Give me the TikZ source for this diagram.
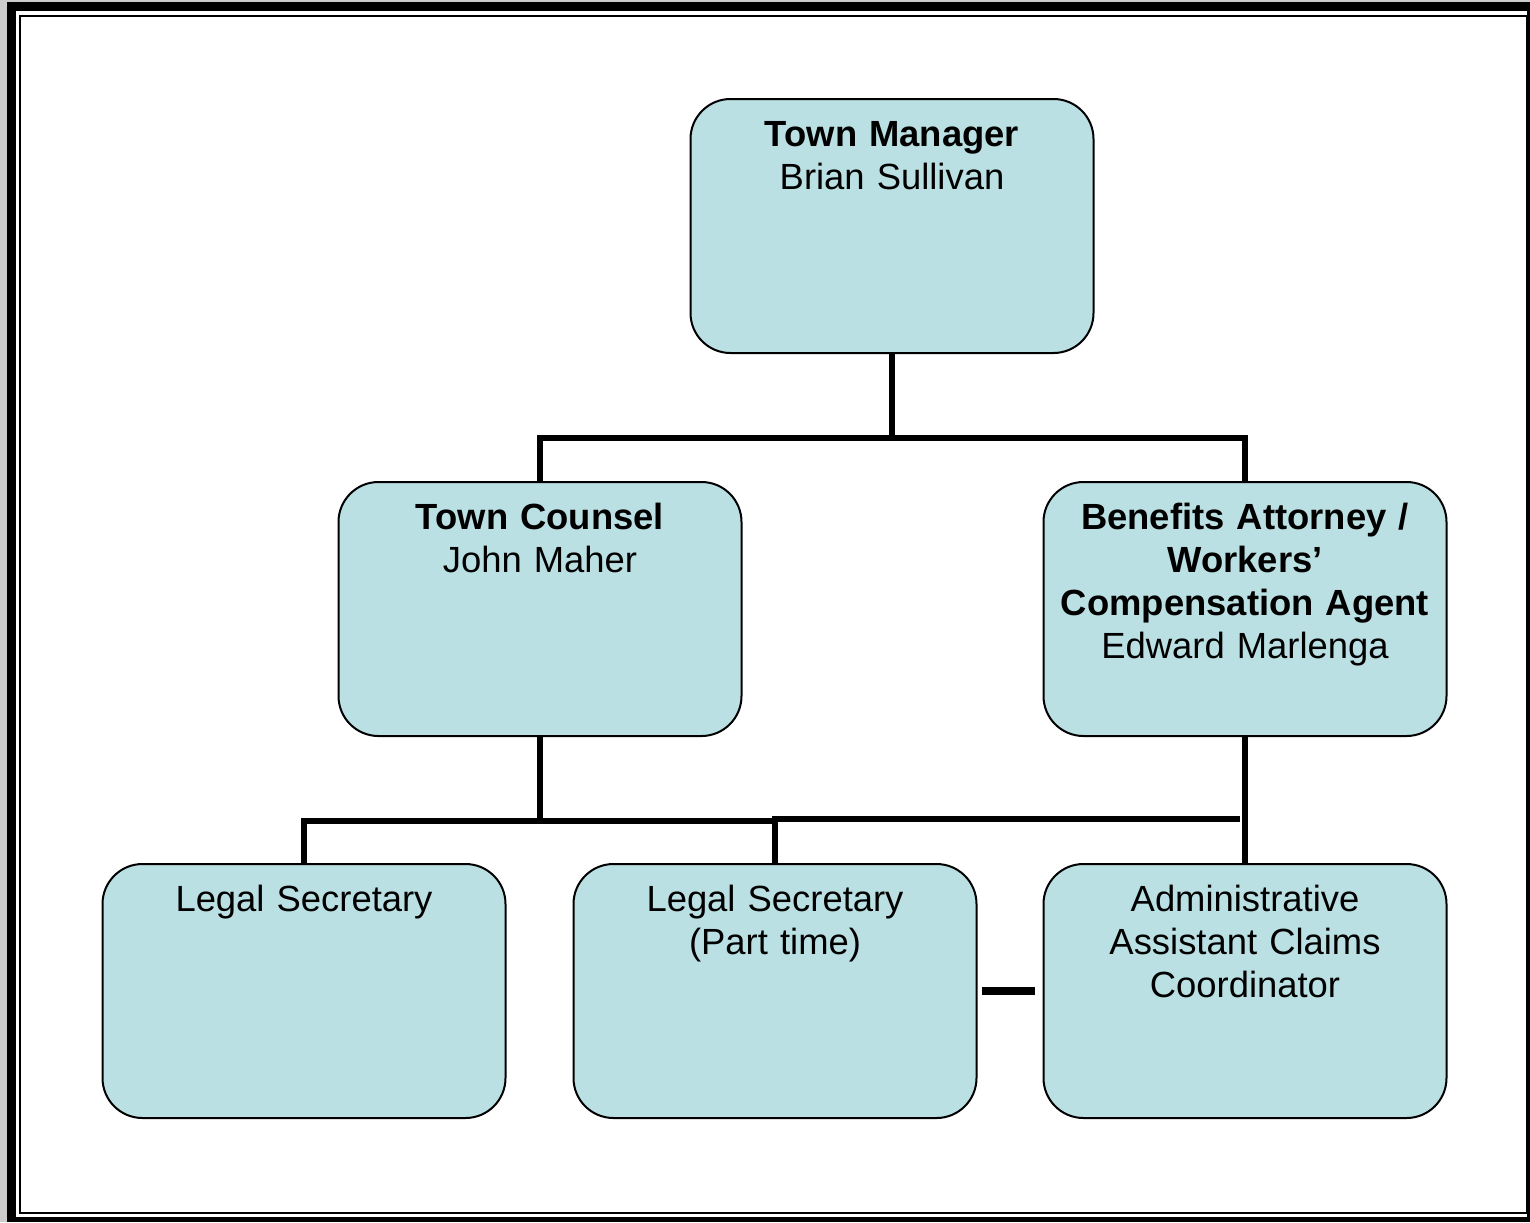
\documentclass[tikz,border=0pt]{standalone}
\usepackage{fontspec}
\setmainfont{Liberation Sans}
\definecolor{boxfill}{RGB}{186,224,227}
\definecolor{pagegray}{RGB}{204,204,204}

\begin{document}
\begin{tikzpicture}[x=0.5pt,y=-0.5pt,
  main node/.style={draw,line width=1pt,fill=boxfill,rounded corners=20pt,
    inner sep=0pt,text width=201.5pt,align=center,
    text height=23.5pt,text depth=103.5pt,
    font=\fontsize{18.2}{21.5}\selectfont},
  conn/.style={line width=2.6pt},
  gap line/.style={line width=4pt}]
  % frame
  \fill[pagegray] (0,0) rectangle (1530,1222);
  \fill[black] (7,2) rectangle (1530,1222);
  \fill[white] (16,11) rectangle (1527,1217);
  \draw[line width=1pt] (20,16) rectangle (1527,1213);
  % boxes
  \node[main node] (tm)  at (892,226)  {\textbf{Town Manager}\\Brian Sullivan};
  \node[main node] (tc)  at (540,609)  {\textbf{Town Counsel}\\John Maher};
  \node[main node] (ba)  at (1245,609) {\textbf{Benefits Attorney /}\\\textbf{Workers’}\\\textbf{Compensation Agent}\\Edward Marlenga};
  \node[main node] (ls1) at (304,991)  {Legal Secretary};
  \node[main node] (ls2) at (775,991)  {Legal Secretary\\(Part time)};
  \node[main node] (aa)  at (1245,991) {Administrative\\Assistant Claims\\Coordinator};
  \coordinate (topbus) at (892,438);
  \coordinate (lowbus) at (540,821);
  \coordinate (lowend) at (1240,819);
  % connectors
  \draw[conn] (tm.south) -- (topbus);
  \draw[conn] (tc.north) |- (topbus) -| (ba.north);
  \draw[conn] (tc.south) -- (lowbus);
  \draw[conn] (ls1.north) |- (lowbus) -- (ls2.north |- lowbus);
  \draw[conn,line width=3.2pt] (ls2.north) |- (lowend);
  \draw[conn] (ba.south) -- (aa.north);
  \draw[gap line] ([xshift=2pt]ls2.east) -- ([xshift=-4pt]aa.west);
\end{tikzpicture}
\end{document}
